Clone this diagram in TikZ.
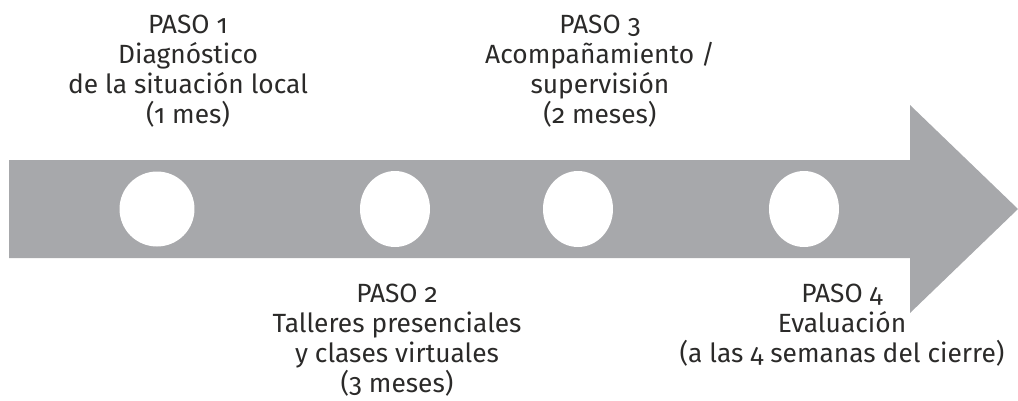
\documentclass[tikz,border=0pt]{standalone}
\usepackage{fontspec}
\setmainfont[Numbers=OldStyle]{Fira Sans}
\usetikzlibrary{positioning}
\usetikzlibrary{shapes.geometric}

\definecolor{bandgray}{HTML}{A7A8AB}
\definecolor{inkgray}{HTML}{2B2A29}

\begin{document}
\begin{tikzpicture}[x=0.02cm, y=-0.02cm]
    \tikzstyle{dot} = [ellipse, fill=white, inner sep=0pt,
    minimum width=1.4cm, minimum height=1.52cm]
    \tikzstyle{steptext} = [align=center, text=inkgray, inner sep=0pt,
    anchor=north, font=\fontsize{15}{17.1}\selectfont]
    \useasboundingbox (0,0) rectangle (1018,400);
    \fill [bandgray] (9,160) -- (910,160) -- (910,105) -- (1018,209)
    -- (910,313) -- (910,258) -- (9,258) -- cycle;
    \node [dot, minimum width=1.5cm, minimum height=1.5cm] (dot1) at (157,209) {};
    \node [dot] (dot2) at (395,209) {};
    \node [dot] (dot3) at (578,209) {};
    \node [dot] (dot4) at (804,209) {};
    \node [steptext] (paso1) at (188,15)
    {PASO 1\\Diagnóstico\\de la situación local\\(1 mes)};
    \node [steptext] (paso3) at (600,15)
    {PASO 3\\Acompañamiento /\\supervisión\\(2 meses)};
    \node [steptext] (paso2) at (397,284)
    {PASO 2\\Talleres presenciales\\y clases virtuales\\(3 meses)};
    \node [steptext] (paso4) at (842,284)
    {PASO 4\\Evaluación\\(a las 4 semanas del cierre)};
\end{tikzpicture}
\end{document}
